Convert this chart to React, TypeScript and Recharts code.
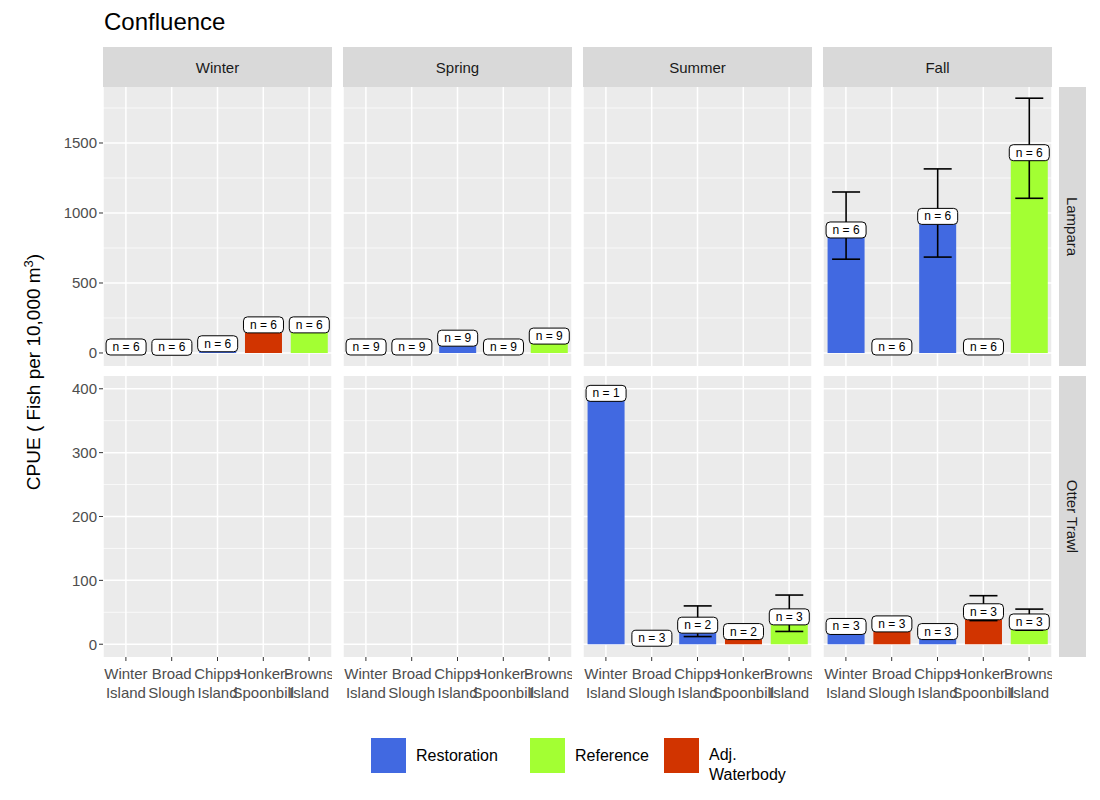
import React from 'react';
import { BarChart, Bar, XAxis, YAxis, CartesianGrid, Cell, LabelList, ErrorBar } from 'recharts';

const sites = ['Winter Island', 'Broad Slough', 'Chipps Island', 'Honker-Spoonbill', 'Browns Island'];
const siteTypes = ['Restoration', 'Adj. Waterbody', 'Restoration', 'Adj. Waterbody', 'Reference'];
const seasons = ['Winter', 'Spring', 'Summer', 'Fall'];
const gears = ['Lampara', 'Otter Trawl'];

// [season][site] : mean CPUE, null = not sampled
const lamparaMean = [
  [0, 5, 30, 165, 165],
  [0, 0, 70, 0, 85],
  [null, null, null, null, null],
  [843, 0, 940, 0, 1395],
];
const lamparaLow = [
  [null, null, null, null, null],
  [null, null, null, null, null],
  [null, null, null, null, null],
  [670, null, 685, null, 1105],
];
const lamparaHigh = [
  [null, null, null, null, null],
  [null, null, null, null, null],
  [null, null, null, null, null],
  [1150, null, 1315, null, 1820],
];
const lamparaN = [
  [6, 6, 6, 6, 6],
  [9, 9, 9, 9, 9],
  [null, null, null, null, null],
  [6, 6, 6, 6, 6],
];

const otterMean = [
  [null, null, null, null, null],
  [null, null, null, null, null],
  [385, 0, 22, 12, 35],
  [20, 24, 12, 43, 27],
];
const otterLow = [
  [null, null, null, null, null],
  [null, null, null, null, null],
  [null, null, 12, null, 20],
  [null, null, null, 37, 22],
];
const otterHigh = [
  [null, null, null, null, null],
  [null, null, null, null, null],
  [null, null, 60, null, 77],
  [null, null, null, 76, 55],
];
const otterN = [
  [null, null, null, null, null],
  [null, null, null, null, null],
  [1, 3, 2, 2, 3],
  [3, 3, 3, 3, 3],
];

const typeColors: Record<string, string> = {
  Restoration: '#4169E1',
  Reference: '#A3FF33',
  'Adj. Waterbody': '#D13400',
};

const rowSpecs = [
  { mean: lamparaMean, low: lamparaLow, high: lamparaHigh, n: lamparaN, domain: [-93, 1900], ticks: [0, 500, 1000, 1500], minor: [250, 750, 1250, 1750], top: 87, h: 279 },
  { mean: otterMean, low: otterLow, high: otterHigh, n: otterN, domain: [-20, 420], ticks: [0, 100, 200, 300, 400], minor: [50, 150, 250, 350], top: 376, h: 281 },
];

const FONT = '"Liberation Sans", Arial, sans-serif';
const PANEL_W = 229;
const AXIS_W = 60;
const XAXIS_H = 50;

function buildData(r: number, s: number) {
  const spec = rowSpecs[r];
  return sites.map((site, i) => {
    const v = spec.mean[s][i];
    const lo = spec.low[s][i];
    const hi = spec.high[s][i];
    return {
      site,
      type: siteTypes[i],
      value: v,
      n: spec.n[s][i],
      err: v != null && lo != null && hi != null ? [v - lo, hi - v] : null,
    };
  });
}

const NLabel = (props: any) => {
  const { x, y, width, value } = props;
  if (value == null || x == null) return null;
  const cx = x + width / 2;
  const cy = y - 5;
  return (
    <g>
      <rect x={cx - 20} y={cy - 8} width={40} height={16} rx={4} fill="#fff" stroke="#000" strokeWidth={1} />
      <text x={cx} y={cy + 4} textAnchor="middle" fontSize={12} fontFamily={FONT} fill="#000">{`n = ${value}`}</text>
    </g>
  );
};

const SiteTick = (props: any) => {
  const { x, y, payload } = props;
  const words = String(payload.value).split(/ |(?<=-)/);
  return (
    <text x={x} y={y + 16} textAnchor="middle" fontSize={15} fontFamily={FONT} fill="#4D4D4D">
      <tspan x={x} dy={0}>{words[0]}</tspan>
      <tspan x={x} dy={19}>{words[1]}</tspan>
    </text>
  );
};

function Panel({ r, s }: { r: number; s: number }) {
  const spec = rowSpecs[r];
  const left = s === 0;
  const bottom = r === 1;
  const data = buildData(r, s);
  return (
    <div style={{ position: 'absolute', left: 103 + s * 240 - (left ? AXIS_W : 0), top: spec.top }}>
      <BarChart
        width={PANEL_W + (left ? AXIS_W : 0)}
        height={spec.h + (bottom ? XAXIS_H : 0)}
        data={data}
        margin={{ top: 0, right: 0, bottom: 0, left: 0 }}
        barCategoryGap="10%"
      >
        <CartesianGrid horizontalValues={spec.ticks} stroke="#fff" strokeWidth={1.5} fill="#EBEBEB" />
        <CartesianGrid horizontalValues={spec.minor} vertical={false} stroke="#fff" strokeWidth={0.7} />
        <XAxis
          dataKey="site"
          hide={!bottom}
          height={XAXIS_H}
          axisLine={false}
          tickSize={4}
          tickLine={{ stroke: '#333' }}
          tick={<SiteTick />}
          interval={0}
        />
        <YAxis
          hide={!left}
          width={AXIS_W}
          domain={spec.domain}
          ticks={spec.ticks}
          allowDataOverflow
          axisLine={false}
          tickSize={4}
          tickLine={{ stroke: '#333' }}
          tick={{ fontSize: 15, fill: '#4D4D4D', fontFamily: FONT }}
        />
        <Bar dataKey="value" isAnimationActive={false} minPointSize={(v: any) => (v === 0 ? 1 : 0)}>
          {data.map((d, i) => (
            <Cell key={i} fill={typeColors[d.type]} />
          ))}
          <ErrorBar dataKey="err" width={14} stroke="#000" strokeWidth={1.6} direction="y" />
          <LabelList dataKey="n" content={<NLabel />} />
        </Bar>
      </BarChart>
    </div>
  );
}

const legendItems = [
  { label: 'Restoration', key: 'Restoration', x: 371 },
  { label: 'Reference', key: 'Reference', x: 530 },
  { label: 'Adj.\nWaterbody', key: 'Adj. Waterbody', x: 664 },
];

export default function App() {
  return (
    <div style={{ position: 'relative', width: 1100, height: 800, background: '#fff', margin: -8, fontFamily: FONT }}>
      <div style={{ position: 'absolute', left: 104, top: 8, fontSize: 24, color: '#000' }}>Confluence</div>
      {seasons.map((season, s) => (
        <div key={season} style={{ position: 'absolute', left: 103 + s * 240, top: 47, width: PANEL_W, height: 40, background: '#D9D9D9', display: 'flex', alignItems: 'center', justifyContent: 'center', fontSize: 15, color: '#1A1A1A' }}>
          {season}
        </div>
      ))}
      {gears.map((g, r) => (
        <div key={g} style={{ position: 'absolute', left: 1059, top: rowSpecs[r].top, width: 27, height: rowSpecs[r].h, background: '#D9D9D9', display: 'flex', alignItems: 'center', justifyContent: 'center' }}>
          <div style={{ transform: 'rotate(90deg)', whiteSpace: 'nowrap', fontSize: 15, color: '#1A1A1A' }}>{g}</div>
        </div>
      ))}
      {rowSpecs.map((_, r) => seasons.map((season, s) => <Panel key={`${r}-${s}`} r={r} s={s} />))}
      <div style={{ position: 'absolute', left: 33, top: 372, transform: 'translate(-50%, -50%) rotate(-90deg)', whiteSpace: 'nowrap', fontSize: 19, color: '#000' }}>
        CPUE ( Fish per 10,000 m<sup style={{ fontSize: 13 }}>3</sup>)
      </div>
      {legendItems.map((it) => (
        <div key={it.key} style={{ position: 'absolute', left: it.x, top: 738, height: 35, display: 'flex', alignItems: 'center' }}>
          <div style={{ width: 35, height: 35, background: typeColors[it.key] }} />
          <div style={{ marginLeft: 10, fontSize: 16, whiteSpace: 'pre', lineHeight: '20px', marginTop: it.key === 'Adj. Waterbody' ? 18 : 0 }}>{it.label}</div>
        </div>
      ))}
    </div>
  );
}
